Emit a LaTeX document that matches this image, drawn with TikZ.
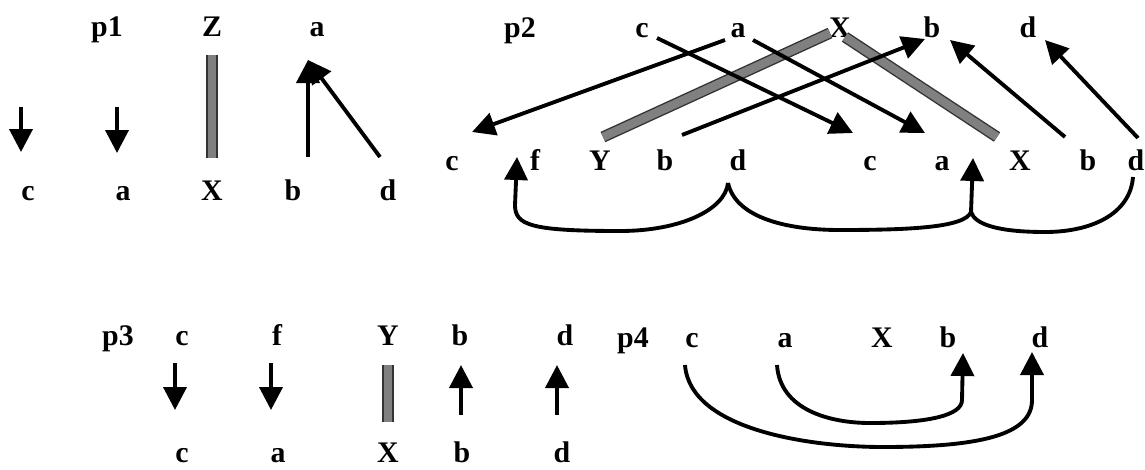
\documentclass[tikz,border=0pt]{standalone}
\usepackage{fontspec}
\setmainfont{Liberation Serif}
\usetikzlibrary{arrows.meta}

\begin{document}
\begin{tikzpicture}[
  lbl/.style={font=\fontsize{17}{20}\selectfont\bfseries, inner sep=0pt, anchor=base},
  arr/.style={line width=2.2pt, -{Triangle[width=0.46cm,length=0.46cm]}},
  link/.style={line width=2.2pt},
  bar/.style={line width=0.8pt, draw=black!80, double=black!50, double distance=0.17cm}
]
  \useasboundingbox (0,0) rectangle (22.90,-9.38);

  % p1 -- top row at y=-0.73, bottom row at y=-4.00
  \node[lbl] (p1)   at (2.14,-0.73) {p1};
  \node[lbl] (p1Z)  at (4.24,-0.73) {Z};
  \node[lbl] (p1aT) at (6.34,-0.73) {a};
  \node[lbl] (p1c)  at (0.56,-4.00) {c};
  \node[lbl] (p1a)  at (2.46,-4.00) {a};
  \node[lbl] (p1X)  at (4.24,-4.00) {X};
  \node[lbl] (p1b)  at (5.86,-4.00) {b};
  \node[lbl] (p1d)  at (7.76,-4.00) {d};
  % arrow ends, measured off the labels
  \coordinate (p1cS) at (0.42,-2.14);  \coordinate (p1cE) at (0.42,-3.04);
  \coordinate (p1aS) at (2.34,-2.14);  \coordinate (p1aE) at (2.34,-3.06);
  \coordinate (p1ZS) at (4.24,-1.10);  \coordinate (p1ZE) at (4.24,-3.16);
  \coordinate (p1bS) at (6.16,-3.14);  \coordinate (p1dS) at (7.60,-3.14);
  \coordinate (p1T)  at (6.16,-1.20);
  \draw[arr] (p1cS) -- (p1cE);
  \draw[arr] (p1aS) -- (p1aE);
  \draw[bar] (p1ZS) -- (p1ZE);
  \draw[arr] (p1bS) -- (p1T);
  \draw[arr] (p1dS) -- (p1T);

  % p2 -- top row at y=-0.74, bottom row at y=-3.40
  \node[lbl] (p2)   at (10.40,-0.74) {p2};
  \node[lbl] (p2cT) at (12.84,-0.74) {c};
  \node[lbl] (p2aT) at (14.76,-0.74) {a};
  \node[lbl] (p2XT) at (16.80,-0.74) {X};
  \node[lbl] (p2bT) at (18.64,-0.74) {b};
  \node[lbl] (p2dT) at (20.56,-0.74) {d};
  \node[lbl] (p2c)  at (9.04,-3.40) {c};
  \node[lbl] (p2f)  at (10.70,-3.40) {f};
  \node[lbl] (p2Y)  at (12.00,-3.40) {Y};
  \node[lbl] (p2b)  at (13.30,-3.40) {b};
  \node[lbl] (p2d)  at (14.76,-3.40) {d};
  \node[lbl] (p2c2) at (17.40,-3.40) {c};
  \node[lbl] (p2a2) at (18.84,-3.40) {a};
  \node[lbl] (p2X2) at (20.40,-3.40) {X};
  \node[lbl] (p2b2) at (21.76,-3.40) {b};
  \node[lbl] (p2d2) at (22.72,-3.40) {d};
  % crossing arrows
  \coordinate (p2aS)  at (14.50,-0.80); \coordinate (p2cE)  at (9.44,-2.64);
  \coordinate (p2cS)  at (13.14,-0.76); \coordinate (p2c2E) at (17.06,-2.66);
  \coordinate (p2aS2) at (15.06,-0.80); \coordinate (p2a2E) at (18.50,-2.66);
  \coordinate (p2YS)  at (12.06,-2.74); \coordinate (p2XE)  at (16.60,-0.66);
  \coordinate (p2XS)  at (16.90,-0.74); \coordinate (p2X2E) at (19.94,-2.74);
  \coordinate (p2bS)  at (13.64,-2.70); \coordinate (p2bE)  at (18.50,-0.78);
  \coordinate (p2b2S) at (21.30,-2.74); \coordinate (p2bE2) at (19.00,-0.80);
  \coordinate (p2d2S) at (22.76,-2.76); \coordinate (p2dE)  at (20.90,-0.80);
  \draw[bar] (p2YS) -- (p2XE);
  \draw[bar] (p2XS) -- (p2X2E);
  \draw[arr] (p2aS) -- (p2cE);
  \draw[arr] (p2cS) -- (p2c2E);
  \draw[arr] (p2aS2) -- (p2a2E);
  \draw[arr] (p2bS) -- (p2bE);
  \draw[arr] (p2b2S) -- (p2bE2);
  \draw[arr] (p2d2S) -- (p2dE);
  % loops underneath
  \coordinate (p2dK) at (14.56,-3.66);
  \coordinate (p2fE) at (10.34,-3.14);
  \coordinate (p2K)  at (19.42,-4.24);
  \coordinate (p2aE) at (19.46,-3.16);
  \coordinate (p2d2K) at (22.66,-3.54);
  \draw[arr] (p2dK) .. controls (14.50,-4.20) and (13.60,-4.62) .. (12.40,-4.62)
     .. controls (10.60,-4.62) and (10.30,-4.50) .. (10.30,-4.10) -- (p2fE);
  \draw[arr] (p2dK) .. controls (14.70,-4.30) and (15.60,-4.60) .. (16.80,-4.60)
     .. controls (18.20,-4.60) and (19.30,-4.55) .. (p2K) -- (p2aE);
  \draw[link] (p2d2K) .. controls (22.60,-4.30) and (21.80,-4.64) .. (20.90,-4.64)
     .. controls (20.00,-4.64) and (19.50,-4.50) .. (p2K);

  % p3 -- top row at y=-6.90, bottom row at y=-9.24
  \node[lbl] (p3)   at (2.36,-6.90) {p3};
  \node[lbl] (p3cT) at (3.64,-6.90) {c};
  \node[lbl] (p3fT) at (5.54,-6.90) {f};
  \node[lbl] (p3YT) at (7.76,-6.90) {Y};
  \node[lbl] (p3bT) at (9.20,-6.90) {b};
  \node[lbl] (p3dT) at (11.30,-6.90) {d};
  \node[lbl] (p3c)  at (3.64,-9.24) {c};
  \node[lbl] (p3a)  at (5.56,-9.24) {a};
  \node[lbl] (p3X)  at (7.76,-9.24) {X};
  \node[lbl] (p3b)  at (9.24,-9.24) {b};
  \node[lbl] (p3d)  at (11.24,-9.24) {d};
  \coordinate (p3cS) at (3.50,-7.26);  \coordinate (p3cE) at (3.50,-8.20);
  \coordinate (p3fS) at (5.42,-7.26);  \coordinate (p3fE) at (5.42,-8.20);
  \coordinate (p3YS) at (7.76,-7.30);  \coordinate (p3YE) at (7.76,-8.44);
  \coordinate (p3bS) at (9.22,-8.30);  \coordinate (p3bE) at (9.22,-7.30);
  \coordinate (p3dS) at (11.14,-8.30); \coordinate (p3dE) at (11.14,-7.30);
  \draw[arr] (p3cS) -- (p3cE);
  \draw[arr] (p3fS) -- (p3fE);
  \draw[bar] (p3YS) -- (p3YE);
  \draw[arr] (p3bS) -- (p3bE);
  \draw[arr] (p3dS) -- (p3dE);

  % p4 -- one row at y=-6.94
  \node[lbl] (p4)  at (12.66,-6.94) {p4};
  \node[lbl] (p4c) at (13.84,-6.94) {c};
  \node[lbl] (p4a) at (15.70,-6.94) {a};
  \node[lbl] (p4X) at (17.64,-6.94) {X};
  \node[lbl] (p4b) at (18.96,-6.94) {b};
  \node[lbl] (p4d) at (20.80,-6.94) {d};
  \coordinate (p4aS) at (15.54,-7.30); \coordinate (p4bE) at (19.26,-7.06);
  \coordinate (p4cS) at (13.70,-7.30); \coordinate (p4dE) at (20.64,-7.04);
  \draw[arr] (p4aS) .. controls (15.60,-8.20) and (16.60,-8.46) .. (17.40,-8.46)
     .. controls (18.60,-8.46) and (19.24,-8.30) .. (19.24,-8.00) -- (p4bE);
  \draw[arr] (p4cS) .. controls (13.80,-8.60) and (16.20,-8.94) .. (17.66,-8.94)
     .. controls (19.60,-8.94) and (20.64,-8.70) .. (20.64,-8.00) -- (p4dE);
\end{tikzpicture}
\end{document}
